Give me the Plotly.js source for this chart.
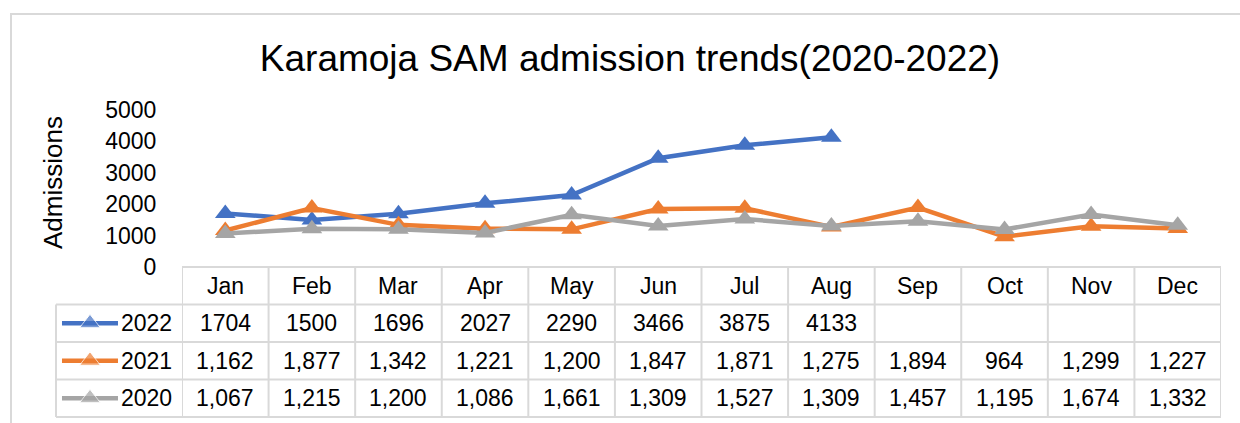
<!DOCTYPE html>
<html>
<head>
<meta charset="utf-8">
<script src="https://cdn.plot.ly/plotly-3.0.1.min.js"></script>
<style>html,body{margin:0;padding:0;background:#fff;}#chart{width:1240px;height:423px;}</style>
</head>
<body>
<div id="chart"></div>
<script>
// ---- data ----
const months = ['Jan','Feb','Mar','Apr','May','Jun','Jul','Aug','Sep','Oct','Nov','Dec'];
const values2022 = [1704,1500,1696,2027,2290,3466,3875,4133,null,null,null,null];
const values2021 = [1162,1877,1342,1221,1200,1847,1871,1275,1894,964,1299,1227];
const values2020 = [1067,1215,1200,1086,1661,1309,1527,1309,1457,1195,1674,1332];
const seriesNames = ['2022','2021','2020'];
const yTicks = [0,1000,2000,3000,4000,5000];
const titleText = 'Karamoja SAM admission trends(2020-2022)';
const yTitleText = 'Admissions';

// ---- styling / layout helpers ----
const W = 1240, H = 423;
const FONT = 'Liberation Sans, Arial, sans-serif';
const seriesValues = [values2022, values2021, values2020];
const seriesColors = ['#4472C4','#ED7D31','#A5A5A5'];
const thousandSep = [false, true, true];
const gridColor = '#d9d9d9';
const plotL = 182, plotR = 1221, plotT = 110, plotB = 267;
const legL = 56;
const rowLines = [267, 304.5, 342, 379.5, 417];
const px = x => x / W;
const py = y => 1 - y / H;

function fmt(v, sep) {
  if (v === null || v === undefined) return '';
  return sep ? v.toLocaleString('en-US') : String(v);
}

const traces = [];
seriesNames.forEach((name, i) => {
  traces.push({
    type: 'scatter', mode: 'lines+markers', name: name,
    x: months, y: seriesValues[i],
    xaxis: 'x', yaxis: 'y',
    line: {color: seriesColors[i], width: 4.5},
    marker: {symbol: 'triangle-up', size: 18, color: seriesColors[i]},
    connectgaps: false, cliponaxis: false, hoverinfo: 'skip', showlegend: false
  });
});
// legend keys inside the data table
seriesNames.forEach((name, i) => {
  traces.push({
    type: 'scatter', mode: 'lines+markers',
    x: [0, 1, 2], y: [name, name, name],
    xaxis: 'x2', yaxis: 'y2',
    line: {color: seriesColors[i], width: 4.5},
    marker: {symbol: 'triangle-up', size: [0, 18, 0], color: seriesColors[i]},
    cliponaxis: false, hoverinfo: 'skip', showlegend: false
  });
});

const shapes = [];
// outer chart border (top and left)
shapes.push({type: 'path', xref: 'paper', yref: 'paper',
  path: `M ${px(11)} ${py(423)} L ${px(11)} ${py(14)} L ${px(1240)} ${py(14)}`,
  line: {color: gridColor, width: 2}});
// horizontal table lines
rowLines.forEach((y, k) => {
  shapes.push({type: 'line', xref: 'paper', yref: 'paper',
    x0: px(k === 0 ? plotL : legL), x1: px(plotR), y0: py(y), y1: py(y),
    line: {color: gridColor, width: 2}});
});
// vertical table lines
shapes.push({type: 'line', xref: 'paper', yref: 'paper',
  x0: px(legL), x1: px(legL), y0: py(rowLines[1]), y1: py(rowLines[4]),
  line: {color: gridColor, width: 2}});
for (let k = 0; k <= months.length; k++) {
  shapes.push({type: 'line', xref: 'x', yref: 'paper',
    x0: k - 0.5, x1: k - 0.5, y0: py(rowLines[0]), y1: py(rowLines[4]),
    line: {color: gridColor, width: 2}});
}

const annotations = [];
const cellFont = {family: FONT, size: 23, color: '#000'};
months.forEach((m, j) => {
  annotations.push({xref: 'x', yref: 'paper', x: m, y: py((rowLines[0] + rowLines[1]) / 2),
    text: m, showarrow: false, font: cellFont, xanchor: 'center', yanchor: 'middle'});
});
seriesNames.forEach((name, i) => {
  const yc = py((rowLines[i + 1] + rowLines[i + 2]) / 2);
  annotations.push({xref: 'paper', yref: 'paper', x: px(119), y: yc, text: name,
    showarrow: false, font: cellFont, xanchor: 'left', yanchor: 'middle'});
  months.forEach((m, j) => {
    const t = fmt(seriesValues[i][j], thousandSep[i]);
    if (t) annotations.push({xref: 'x', yref: 'paper', x: m, y: yc, text: t,
      showarrow: false, font: cellFont, xanchor: 'center', yanchor: 'middle'});
  });
});
annotations.push({xref: 'paper', yref: 'paper', x: px(53), y: py(183), text: yTitleText,
  textangle: -90, showarrow: false, font: {family: FONT, size: 26, color: '#000'},
  xanchor: 'center', yanchor: 'middle'});

const layout = {
  width: W, height: H,
  margin: {l: 0, r: 0, t: 0, b: 0},
  paper_bgcolor: '#fff', plot_bgcolor: 'rgba(0,0,0,0)',
  font: {family: FONT, color: '#000'},
  title: {text: titleText, font: {family: FONT, size: 37, color: '#000'},
    xref: 'container', yref: 'container', x: 630 / W, xanchor: 'center', y: py(58), yanchor: 'middle'},
  xaxis: {type: 'category', categoryarray: months, domain: [px(plotL), px(plotR)],
    range: [-0.5, months.length - 0.5], showticklabels: false, showgrid: false,
    zeroline: false, showline: false, ticks: '', fixedrange: true},
  yaxis: {domain: [py(plotB), py(plotT)], range: [0, 5000], tickvals: yTicks,
    ticktext: yTicks.map(String), showgrid: false, zeroline: false, showline: false,
    ticks: 'outside', ticklen: 20, tickcolor: 'rgba(0,0,0,0)',
    tickfont: {family: FONT, size: 23, color: '#000'}, fixedrange: true},
  xaxis2: {domain: [px(legL), px(plotL)], range: [-0.214, 4.286], anchor: 'y2',
    visible: false, fixedrange: true},
  yaxis2: {domain: [py(rowLines[4]), py(rowLines[1])], type: 'category',
    categoryarray: ['2020','2021','2022'], range: [-0.5, 2.5], anchor: 'x2',
    visible: false, fixedrange: true},
  shapes: shapes, annotations: annotations, showlegend: false
};

Plotly.newPlot('chart', traces, layout, {displayModeBar: false, staticPlot: true});
</script>
</body>
</html>
